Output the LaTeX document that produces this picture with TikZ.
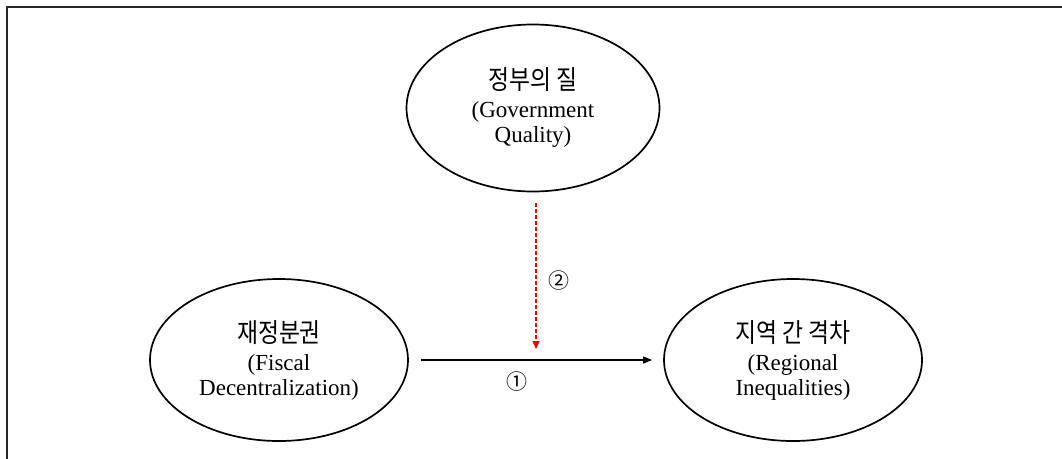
\documentclass[tikz,border=0pt]{standalone}
\usepackage{fontspec}
\setmainfont{Liberation Serif}
\newfontfamily\kr{Noto Sans CJK KR}
\newfontfamily\dv{DejaVu Sans}
\usetikzlibrary{shapes.geometric,arrows.meta}
\tikzset{
  oval/.style={draw=black, line width=1.7pt, ellipse, inner sep=0pt, align=center,
    font=\fontsize{23}{25}\selectfont},
  mainarrow/.style={draw=black, line width=1.4pt, -{Triangle[length=9pt,width=7pt]}},
  modarrow/.style={draw=red, line width=1.4pt, dash pattern=on 4pt off 2pt, -{Triangle[length=8pt,width=7pt]}},
  numlabel/.style={font=\kr\fontsize{21}{21}\selectfont, inner sep=0pt},
  frameline/.style={draw=black!85, line width=2.2pt}
}
\newcommand{\krline}[1]{\scalebox{0.86}[1]{\kr\fontsize{26.5}{26.5}\selectfont #1}}
\begin{document}
\begin{tikzpicture}[x=1pt,y=-1pt]
\useasboundingbox (0,0) rectangle (1062,458);
\draw[frameline] (7,460) -- (7,7) -- (1064,7);
\node[oval, minimum width=253pt, minimum height=167pt] (T) at (533,108)
  {\krline{정부의 질}\\[3pt](Government\\Quality)};
\node[oval, minimum width=258pt, minimum height=162pt] (L) at (279,360)
  {\krline{재정분권}\\[3pt](Fiscal\\Decentralization)};
\node[oval, minimum width=258pt, minimum height=162pt] (R) at (793,360)
  {\krline{지역 간 격차}\\[3pt](Regional\\Inequalities)};
\coordinate (m) at (536,349);
\draw[mainarrow, shorten <=12pt, shorten >=11pt] (L.east) -- (R.west);
\draw[modarrow, shorten <=11pt] (T.south -| m) -- (m);
\node[numlabel] (n1) at (517,382) {①};
\node[numlabel] (n2) at (559,281) {②};
\end{tikzpicture}
\end{document}
